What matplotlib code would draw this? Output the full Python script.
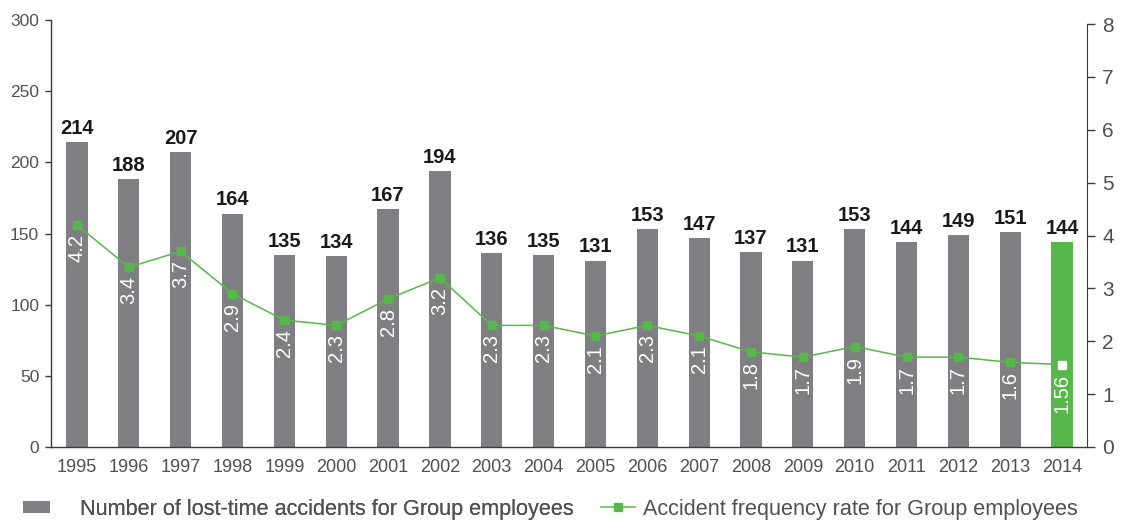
import matplotlib
matplotlib.use("Agg")
import matplotlib.pyplot as plt
from matplotlib import font_manager

# Data
years = ["1995", "1996", "1997", "1998", "1999", "2000", "2001", "2002", "2003", "2004",
         "2005", "2006", "2007", "2008", "2009", "2010", "2011", "2012", "2013", "2014"]
accidents = [214, 188, 207, 164, 135, 134, 167, 194, 136, 135,
             131, 153, 147, 137, 131, 153, 144, 149, 151, 144]
frequency = [4.2, 3.4, 3.7, 2.9, 2.4, 2.3, 2.8, 3.2, 2.3, 2.3,
             2.1, 2.3, 2.1, 1.8, 1.7, 1.9, 1.7, 1.7, 1.6, 1.56]
freq_labels = ["4.2", "3.4", "3.7", "2.9", "2.4", "2.3", "2.8", "3.2", "2.3", "2.3",
               "2.1", "2.3", "2.1", "1.8", "1.7", "1.9", "1.7", "1.7", "1.6", "1.56"]
left_ticks = [0, 50, 100, 150, 200, 250, 300]
right_ticks = [0, 1, 2, 3, 4, 5, 6, 7, 8]
bar_label_text = "Number of lost-time accidents for Group employees"
line_label_text = "Accident frequency rate for Group employees"

GREY = "#7f7f83"
GREEN = "#56b848"
TEXT = "#505050"
SPINE = "#3a3a3a"

available = {f.name for f in font_manager.fontManager.ttflist}
narrow = "Liberation Sans Narrow" if "Liberation Sans Narrow" in available else "Liberation Sans"
plt.rcParams["font.family"] = ["Liberation Sans", "DejaVu Sans"]

fig = plt.figure(figsize=(11.33, 5.22), dpi=100)
ax = fig.add_axes([51 / 1133, 1 - 447 / 522, (1087 - 51) / 1133, (447 - 20) / 522])
ax2 = ax.twinx()

x = list(range(len(years)))
colors = [GREY] * (len(years) - 1) + [GREEN]
bars = ax.bar(x, accidents, width=0.41, color=colors, zorder=2)

ax.set_xlim(-0.5, len(years) - 0.52)
ax.set_ylim(0, 300)
ax.set_yticks(left_ticks)
ax.set_xticks(x)
ax.set_xticklabels(years)

ax.bar_label(bars, labels=[str(v) for v in accidents], padding=3,
             fontsize=14.5, fontweight="bold", color="#1a1a1a", family=narrow)

for s in ["top", "right"]:
    ax.spines[s].set_visible(False)
for s in ["left", "bottom"]:
    ax.spines[s].set_color(SPINE)
    ax.spines[s].set_linewidth(1.0)
ax.tick_params(axis="y", length=4.5, width=1.0, color=SPINE, labelcolor=TEXT,
               labelsize=12.5, pad=4)
ax.tick_params(axis="x", length=0, labelcolor=TEXT, labelsize=13, pad=9)
for lbl in ax.get_xticklabels() + ax.get_yticklabels():
    lbl.set_family(narrow)

# Frequency rate on the secondary axis
ax2.set_ylim(0, 8 * 427 / 423)
ax2.set_yticks(right_ticks)
for s in ["top", "left", "bottom"]:
    ax2.spines[s].set_visible(False)
ax2.spines["right"].set_bounds(0, 8)
ax2.spines["right"].set_color(SPINE)
ax2.tick_params(axis="y", length=6, width=1.0, color=SPINE, labelcolor=TEXT,
                labelsize=15, pad=5)

line, = ax2.plot(x, frequency, color=GREEN, linewidth=1.1, marker="s",
                 markersize=5.5, markerfacecolor=GREEN, markeredgecolor=GREEN, zorder=3)
ax2.plot(x[-1:], frequency[-1:], linestyle="none", marker="s", markersize=5.5,
         markerfacecolor="white", markeredgecolor="white", zorder=4)

for xi, yi, t in zip(x, frequency, freq_labels):
    ax2.annotate(t, (xi, yi), xytext=(0, -6.5), textcoords="offset points",
                 rotation=90, ha="center", va="top", color="white",
                 fontsize=14.5, family=narrow, zorder=5)

# Legend
leg1 = fig.legend([bars.patches[0]], [bar_label_text], loc="center left",
                  bbox_to_anchor=(23 / 1133, 1 - 509 / 522), frameon=False,
                  fontsize=15.6, handlelength=1.25, handleheight=0.45, handletextpad=1.38,
                  borderpad=0, borderaxespad=0, labelcolor=TEXT)
fig.legend([line], [line_label_text], loc="center left",
           bbox_to_anchor=(601 / 1133, 1 - 509 / 522), frameon=False,
           fontsize=15.6, handlelength=1.57, handletextpad=0.37,
           borderpad=0, borderaxespad=0, labelcolor=TEXT)
fig.add_artist(leg1)

fig.savefig("out.png", dpi=100)
